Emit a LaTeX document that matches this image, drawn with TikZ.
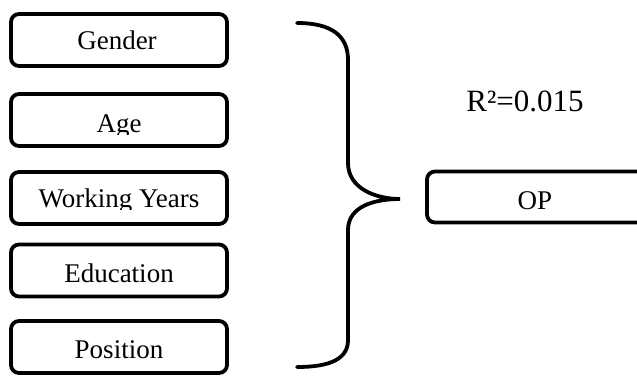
\documentclass[tikz,border=0pt]{standalone}
\usepackage{fontspec}
\setmainfont{Liberation Serif}
\begin{document}
\begin{tikzpicture}[x=1pt,y=-1pt,
  varbox/.style={draw, line width=3.8pt, rounded corners=8pt, minimum width=216pt,
    minimum height=52pt, inner sep=0pt, outer sep=0pt},
  vartext/.style={anchor=base, inner sep=0pt, font=\fontsize{27}{31}\selectfont},
  bracepath/.style={line width=3.8pt, line cap=round}]
\useasboundingbox (0,0) rectangle (637,377);
\clip (0,0) rectangle (637,377);

% predictor boxes
\node[varbox] (gender) at (119,40) {};
\node[varbox] (age) at (119,120) {};
\node[varbox] (work) at (119,198) {};
\node[varbox] (edu) at (119,270.5) {};
\node[varbox] (pos) at (119,347) {};

% labels (the small text frames cut off descenders)
\node[vartext] (genderT) at (117,50) {Gender};
\begin{scope}
  \clip (0,90) rectangle (240,135);
  \node[vartext] (ageT) at (119,132) {Age};
\end{scope}
\begin{scope}
  \clip (0,170) rectangle (240,209.5);
  \node[vartext] (workT) at (119,207) {Working Years};
\end{scope}
\node[vartext] (eduT) at (119,282) {Education};
\node[vartext] (posT) at (119,358) {Position};

% outcome box
\node[varbox, minimum width=233pt, minimum height=51pt] (op) at (543.5,197) {};
\node[vartext] (opT) at (535,209) {OP};

% coefficient of determination
\node[vartext, font=\fontsize{31}{35}\selectfont] (r2) at (525,112) {R²=0.015};

% curly brace grouping the predictors
\coordinate (btop) at (297,23);
\coordinate (btip) at (400,199);
\coordinate (bbot) at (297,367);
\draw[bracepath] (btop) .. controls (332,23) and (348,36) .. (348,60)
  -- (348,163) .. controls (348,188) and (375,199) .. (btip)
  .. controls (375,199) and (348,206) .. (348,230)
  -- (348,340) .. controls (348,358) and (332,367) .. (bbot);
\end{tikzpicture}
\end{document}
